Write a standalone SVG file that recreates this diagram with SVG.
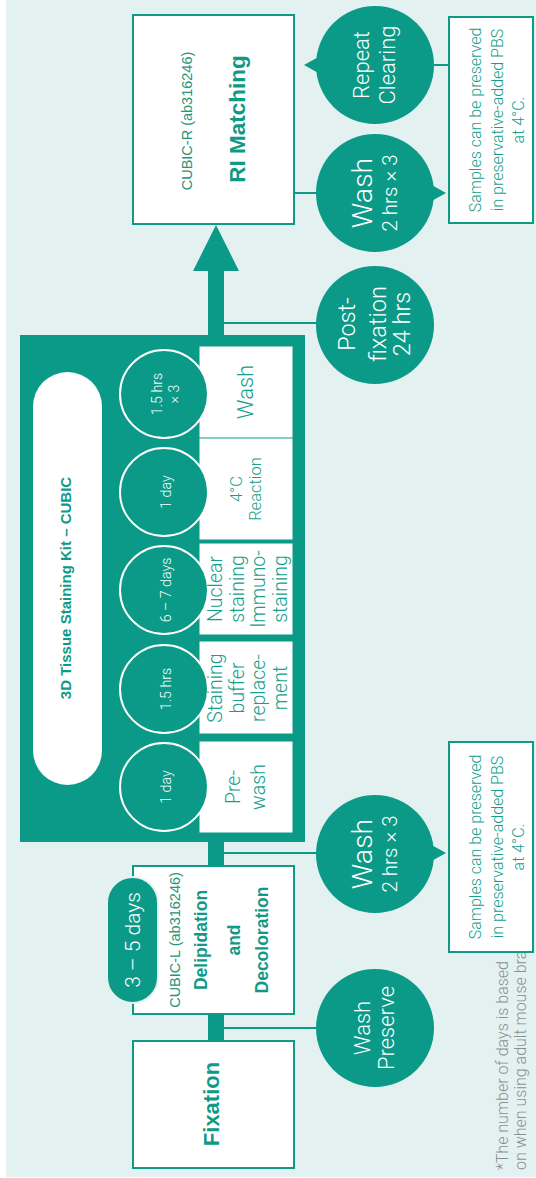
<svg xmlns="http://www.w3.org/2000/svg" width="536" height="1178" viewBox="0 0 536 1178">
<defs>
<style>
.bg{fill:#e3f2f1}
.box{fill:#ffffff;stroke:#0f9a87;stroke-width:2}
.bub{fill:#0b9a87}
.kit{fill:#0b9a87}
.sub{fill:#ffffff;stroke:#ffffff;stroke-width:1}
.sc{fill:#0b9a87;stroke:#ffffff;stroke-width:2}
.ln{stroke:#0b9a87;stroke-width:2;fill:none}
.sh{fill:#0b9a87}
text{font-family:"Liberation Sans",Arial,sans-serif;text-anchor:middle}
.lt{font-family:Roboto,"Liberation Sans",sans-serif;font-weight:300}
.w{fill:#ffffff}
.t{fill:#14a08c}
.tb{fill:#0f9a87;font-weight:bold}
.code{fill:#2a9478}
.foot{fill:#8b9090;text-anchor:start}
</style>
</defs>
<rect x="0" y="0" width="536" height="1178" fill="#ffffff"/>
<rect class="bg" x="6" y="0" width="530" height="1177"/>

<g id="connectors">
<rect class="sh" x="208" y="268" width="16" height="68"/>
<polygon class="sh" points="216,225 193,271 239,271"/>
<rect class="sh" x="208" y="840" width="16" height="27"/>
<rect class="sh" x="208" y="1013" width="16" height="29"/>
<line class="ln" x1="294" y1="193" x2="320" y2="193"/>
<line class="ln" x1="430" y1="65" x2="450" y2="65"/>
<line class="ln" x1="224" y1="323" x2="320" y2="323"/>
<line class="ln" x1="224" y1="853" x2="320" y2="853"/>
<line class="ln" x1="224" y1="1028" x2="320" y2="1028"/>
</g>

<g id="ri-matching">
<rect class="box" x="133" y="15" width="161" height="209"/>
<text class="code" font-size="14.5" transform="translate(187,121) rotate(-90)" y="5">CUBIC-R (ab316246)</text>
<text class="tb" font-size="22.5" transform="translate(237,119) rotate(-90)" y="7.9">RI Matching</text>
</g>

<g id="repeat-clearing">
<circle class="bub" cx="375" cy="65" r="59"/>
<polygon class="bub" points="304,65 322,55 322,75"/>
<text class="lt w" font-size="22" transform="translate(375,65) rotate(-90)"><tspan x="0" y="-6">Repeat</tspan><tspan x="0" y="20">Clearing</tspan></text>
</g>

<g id="wash-top">
<circle class="bub" cx="375" cy="193" r="59"/>
<polygon class="bub" points="446,193 428,183 428,203"/>
<text class="lt w" transform="translate(375,193) rotate(-90)"><tspan x="0" y="-3" font-size="28.5">Wash</tspan><tspan x="0" y="22" font-size="20.5">2 hrs × 3</tspan></text>
</g>

<g id="note-top">
<rect class="box" x="449" y="17" width="84" height="206"/>
<text class="lt t" font-size="16" transform="translate(491,120) rotate(-90)"><tspan x="0" y="-10.5">Samples can be preserved</tspan><tspan x="0" y="11.5">in preservative-added PBS</tspan><tspan x="0" y="32.5">at 4°C.</tspan></text>
</g>

<g id="post-fixation">
<circle class="bub" cx="375" cy="325" r="59"/>
<text class="lt w" font-size="23.5" transform="translate(375,324) rotate(-90)"><tspan x="0" y="-20">Post-</tspan><tspan x="0" y="10.5">fixation</tspan><tspan x="0" y="35">24 hrs</tspan></text>
</g>

<g id="staining-kit">
<rect class="kit" x="20" y="335" width="285" height="507"/>
<rect x="33" y="372" width="69" height="413" rx="34.5" fill="#ffffff"/>
<text class="tb" font-size="15" transform="translate(66,588) rotate(-90)" y="5.3">3D Tissue Staining Kit – CUBIC</text>
</g>

<g id="step-wash">
<rect class="sub" x="200" y="347" width="92" height="90"/>
<circle class="sc" cx="164" cy="394" r="44"/>
<text class="lt w" font-size="14.2" transform="translate(164,394) rotate(-90)"><tspan x="0" y="-2">1.5 hrs</tspan><tspan x="0" y="15">× 3</tspan></text>
<text class="lt t" font-size="22" transform="translate(245,392) rotate(-90)" y="7.7">Wash</text>
</g>

<g id="step-reaction">
<rect class="sub" x="200" y="439" width="92" height="100"/>
<circle class="sc" cx="164" cy="492" r="44"/>
<text class="lt w" font-size="14.2" transform="translate(166,492) rotate(-90)" y="5">1 day</text>
<text class="lt t" font-size="16.5" transform="translate(246,489) rotate(-90)"><tspan x="0" y="-4.2">4°C</tspan><tspan x="0" y="14.8">Reaction</tspan></text>
</g>

<g id="step-staining">
<rect class="sub" x="200" y="544" width="92" height="90"/>
<circle class="sc" cx="164" cy="590" r="44"/>
<text class="lt w" font-size="14.2" transform="translate(166,590) rotate(-90)" y="5">6 – 7 days</text>
<text class="lt t" font-size="19.5" transform="translate(247,589) rotate(-90)"><tspan x="0" y="-25.2">Nuclear</tspan><tspan x="0" y="-3.2">staining</tspan><tspan x="0" y="17.8">Immuno-</tspan><tspan x="0" y="39.8">staining</tspan></text>
</g>

<g id="step-buffer">
<rect class="sub" x="200" y="642" width="92" height="91"/>
<circle class="sc" cx="164" cy="689" r="44"/>
<text class="lt w" font-size="14.2" transform="translate(166,689) rotate(-90)" y="5">1.5 hrs</text>
<text class="lt t" font-size="19.5" transform="translate(247,688) rotate(-90)"><tspan x="0" y="-25.2">Staining</tspan><tspan x="0" y="-3.2">buffer</tspan><tspan x="0" y="17.8">replace-</tspan><tspan x="0" y="39.8">ment</tspan></text>
</g>

<g id="step-prewash">
<rect class="sub" x="200" y="742" width="92" height="90"/>
<circle class="sc" cx="164" cy="787" r="44"/>
<text class="lt w" font-size="14.2" transform="translate(166,787) rotate(-90)" y="5">1 day</text>
<text class="lt t" font-size="19.5" transform="translate(246,787) rotate(-90)"><tspan x="0" y="-6.2">Pre-</tspan><tspan x="0" y="18.8">wash</tspan></text>
</g>

<g id="wash-mid">
<circle class="bub" cx="375" cy="854" r="59"/>
<polygon class="bub" points="446,853 428,843 428,863"/>
<text class="lt w" transform="translate(375,854) rotate(-90)"><tspan x="0" y="-3" font-size="28.5">Wash</tspan><tspan x="0" y="22" font-size="20.5">2 hrs × 3</tspan></text>
</g>

<g id="footnote">
<text class="lt foot" font-size="16" transform="translate(508,1170) rotate(-90)"><tspan x="0" y="0">*The number of days is based</tspan><tspan x="0" y="17.5">on when using adult mouse brai</tspan></text>
</g>

<g id="note-mid">
<rect class="box" x="449" y="742" width="84" height="210"/>
<text class="lt t" font-size="16" transform="translate(491,847) rotate(-90)"><tspan x="0" y="-10.5">Samples can be preserved</tspan><tspan x="0" y="11.5">in preservative-added PBS</tspan><tspan x="0" y="32.5">at 4°C.</tspan></text>
</g>

<g id="cubic-l">
<rect class="box" x="133" y="866" width="161" height="148"/>
<text transform="translate(213,940) rotate(-90)"><tspan class="code" x="0" y="-32.9" font-size="14.5">CUBIC-L (ab316246)</tspan><tspan class="tb" x="0" y="-5.9" font-size="17.5">Delipidation</tspan><tspan class="tb" x="0" y="27.1" font-size="17.5">and</tspan><tspan class="tb" x="0" y="55.1" font-size="17.5">Decoloration</tspan></text>
</g>

<g id="days-3-5">
<rect x="107" y="877" width="51" height="126" rx="25.5" fill="#0b9a87" stroke="#e3f2f1" stroke-width="2"/>
<text class="lt w" font-size="21" transform="translate(133,940) rotate(-90)" y="7.3">3 – 5 days</text>
</g>

<g id="wash-preserve">
<circle class="bub" cx="375" cy="1028" r="59"/>
<text class="lt w" font-size="22" transform="translate(375,1028) rotate(-90)"><tspan x="0" y="-5.5">Wash</tspan><tspan x="0" y="18.5">Preserve</tspan></text>
</g>

<g id="fixation">
<rect class="box" x="133" y="1041" width="161" height="127"/>
<text class="tb" font-size="22" transform="translate(213,1104) rotate(-90)" y="6">Fixation</text>
</g>
</svg>
